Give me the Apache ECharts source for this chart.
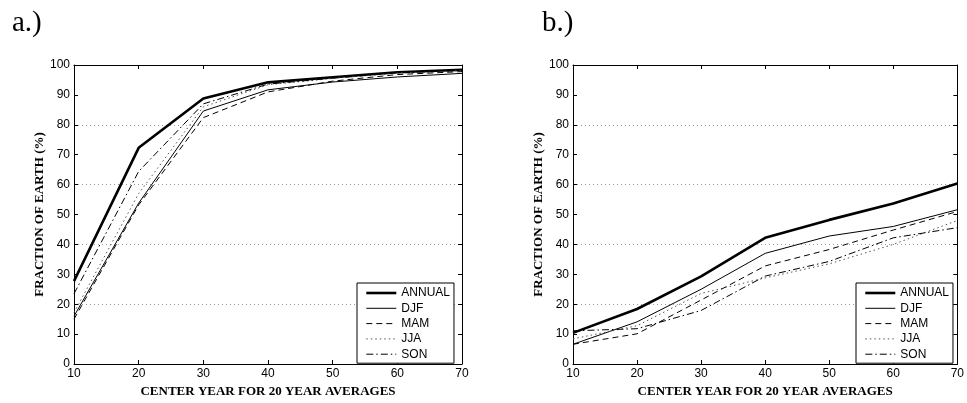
<!DOCTYPE html>
<html><head><meta charset="utf-8">
<script src="https://cdn.jsdelivr.net/npm/echarts@6/dist/echarts.min.js"></script>
<style>html,body{margin:0;padding:0;background:#fff}#c{width:967px;height:403px}</style>
</head><body><div id="c"></div>
<script>
// ---- data ----
const years = [10, 20, 30, 40, 50, 60, 70];
const seriesNames = ['ANNUAL', 'DJF', 'MAM', 'JJA', 'SON'];
const panelLabels = ['a.)', 'b.)'];
const xTitle = 'CENTER YEAR FOR 20 YEAR AVERAGES';
const yTitle = 'FRACTION OF EARTH (%)';
// panel a
const a_ANNUAL = [27.7, 72.3, 88.8, 94.2, 95.9, 97.6, 98.4];
const a_DJF    = [16.0, 53.8, 84.6, 91.7, 94.3, 96.0, 97.2];
const a_MAM    = [15.0, 53.2, 82.4, 91.0, 94.6, 96.8, 97.8];
const a_JJA    = [17.2, 57.0, 86.0, 93.4, 95.5, 97.3, 98.1];
const a_SON    = [23.5, 64.4, 87.0, 93.6, 95.6, 97.4, 98.2];
// panel b
const b_ANNUAL = [10.4, 18.4, 29.3, 42.2, 48.2, 53.7, 60.4];
const b_DJF    = [6.6, 14.1, 25.0, 37.0, 42.8, 46.0, 51.6];
const b_MAM    = [6.6, 10.1, 21.4, 32.8, 38.3, 44.8, 51.0];
const b_JJA    = [8.4, 12.8, 23.6, 28.8, 33.5, 40.0, 48.0];
const b_SON    = [11.1, 11.8, 17.9, 29.4, 34.3, 42.2, 45.6];

const panelData = [
  [a_ANNUAL, a_DJF, a_MAM, a_JJA, a_SON],
  [b_ANNUAL, b_DJF, b_MAM, b_JJA, b_SON]
];

// ---- styles ----
const lineStyles = [
  { color: '#000', width: 2.6, type: 'solid' },
  { color: '#000', width: 1, type: 'solid' },
  { color: '#000', width: 1, type: [6, 4] },
  { color: '#555', width: 1, type: [1.5, 3] },
  { color: '#000', width: 1, type: [7, 3, 1.5, 3] }
];
const sans = 'Liberation Sans, Arial, sans-serif';
const serif = 'Liberation Serif, Times New Roman, serif';
const grids = [
  { left: 74, top: 65, width: 388, height: 304 },
  { left: 573, top: 65, width: 388, height: 304 }
];

const xAxes = [], yAxes = [], series = [], legends = [], titles = [];
grids.forEach((g, gi) => {
  xAxes.push({
    type: 'value', gridIndex: gi, min: 10, max: 70, interval: 10, position: 'bottom',
    axisLine: { show: true, onZero: false, lineStyle: { color: '#000', width: 1 } },
    axisTick: { show: true, inside: true, length: 4, lineStyle: { color: '#000' } },
    axisLabel: { show: true, color: '#000', fontFamily: sans, fontSize: 12, margin: 4 },
    splitLine: { show: false },
    name: xTitle, nameLocation: 'middle', nameGap: 21,
    nameTextStyle: { fontFamily: serif, fontWeight: 'bold', fontSize: 13, color: '#000' }
  });
  xAxes.push({
    type: 'value', gridIndex: gi, min: 10, max: 70, interval: 10, position: 'top',
    axisLine: { show: true, onZero: false, lineStyle: { color: '#000', width: 1 } },
    axisTick: { show: true, inside: true, length: 4, lineStyle: { color: '#000' } },
    axisLabel: { show: false }, splitLine: { show: false }
  });
  yAxes.push({
    type: 'value', gridIndex: gi, min: 0, max: 100, interval: 10, position: 'left',
    axisLine: { show: true, onZero: false, lineStyle: { color: '#000', width: 1 } },
    axisTick: { show: true, inside: true, length: 4, lineStyle: { color: '#000' } },
    axisLabel: { show: true, color: '#000', fontFamily: sans, fontSize: 12, margin: 4 },
    splitLine: { show: false },
    name: yTitle, nameLocation: 'middle', nameGap: 28, nameRotate: 90,
    nameTextStyle: { fontFamily: serif, fontWeight: 'bold', fontSize: 13, color: '#000' }
  });
  yAxes.push({
    type: 'value', gridIndex: gi, min: 0, max: 100, interval: 10, position: 'right',
    axisLine: { show: true, onZero: false, lineStyle: { color: '#000', width: 1 } },
    axisTick: { show: true, inside: true, length: 4, lineStyle: { color: '#000' } },
    axisLabel: { show: false }, splitLine: { show: false }
  });
  yAxes.push({
    type: 'value', gridIndex: gi, min: 0, max: 100, interval: 20, position: 'left',
    axisLine: { show: false }, axisTick: { show: false }, axisLabel: { show: false },
    splitLine: { show: true, lineStyle: { color: '#999', width: 1, type: [1, 3] } }
  });

  panelData[gi].forEach((vals, si) => {
    series.push({
      type: 'line', name: seriesNames[si],
      xAxisIndex: gi * 2, yAxisIndex: gi * 3,
      data: years.map((x, i) => [x, vals[i]]),
      symbol: 'none', silent: true, animation: false,
      lineStyle: lineStyles[si], itemStyle: { color: lineStyles[si].color },
      z: 3
    });
  });

  legends.push({
    orient: 'vertical', left: g.left + 283, top: 283,
    data: seriesNames.map((n, si) => ({ name: n, lineStyle: { width: lineStyles[si].width, type: lineStyles[si].type, color: lineStyles[si].color } })),
    selectedMode: false,
    backgroundColor: '#fff', borderColor: '#000', borderWidth: 1,
    padding: [4, 4, 3, 8], itemWidth: 30, itemHeight: 12, itemGap: 3.3,
    itemStyle: { opacity: 0 },
    lineStyle: { width: 'inherit' },
    textStyle: { fontFamily: sans, fontSize: 12, color: '#000', lineHeight: 12 },
    z: 10
  });
  titles.push({
    text: panelLabels[gi], left: gi === 0 ? 7 : 537, top: 4,
    textStyle: { fontFamily: serif, fontWeight: 'normal', fontSize: 29, color: '#000' }
  });
});

const chart = echarts.init(document.getElementById('c'), null, { renderer: 'canvas' });
chart.setOption({
  backgroundColor: '#fff',
  animation: false,
  title: titles,
  grid: grids,
  xAxis: xAxes,
  yAxis: yAxes,
  legend: legends,
  series: series
});
</script></body></html>
